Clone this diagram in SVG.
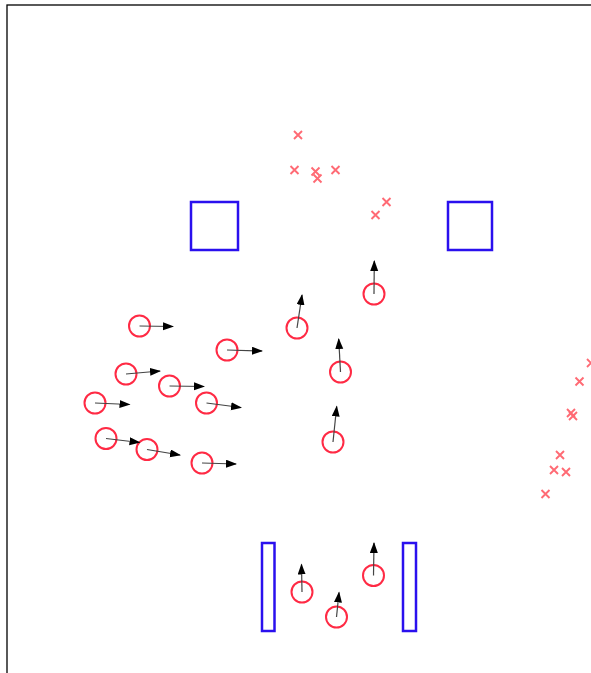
<svg xmlns="http://www.w3.org/2000/svg" width="591" height="673" viewBox="0 0 591 673">
<style>
.frame{fill:#fff;stroke:#000;stroke-width:1.3}
.obs{fill:none;stroke:#2a10ee;stroke-width:2.5}
.agent{fill:none;stroke:#ff2a44;stroke-width:2}
.cross{stroke:#ff6a74;stroke-width:1.9;fill:none}
.vel{stroke:#444;stroke-width:1.2;fill:none;marker-end:url(#ah)}
</style>
<defs>
<marker id="ah" markerUnits="userSpaceOnUse" markerWidth="12" markerHeight="10" refX="10" refY="4" orient="auto">
<path d="M0,0 L11,4 L0,8 Z" fill="#000"/>
</marker>
<path id="x" class="cross" d="M-4,-4 L4,4 M-4,4 L4,-4"/>
</defs>
<rect class="frame" x="7" y="5" width="600" height="700"/>
<g id="goals">
<use href="#x" x="298" y="135"/>
<use href="#x" x="294.5" y="170"/>
<use href="#x" x="315.5" y="171.5"/>
<use href="#x" x="317.5" y="178.5"/>
<use href="#x" x="335.5" y="170"/>
<use href="#x" x="386.5" y="202"/>
<use href="#x" x="375.5" y="215"/>
<use href="#x" x="591" y="363"/>
<use href="#x" x="579.5" y="381.5"/>
<use href="#x" x="571" y="413"/>
<use href="#x" x="573" y="416"/>
<use href="#x" x="560" y="455"/>
<use href="#x" x="554" y="470"/>
<use href="#x" x="566" y="472"/>
<use href="#x" x="545.5" y="494"/>
</g>
<g id="obstacle1"><rect class="obs" x="191" y="202" width="47" height="48"/></g>
<g id="obstacle2"><rect class="obs" x="448" y="202" width="44" height="48"/></g>
<g id="obstacle3"><rect class="obs" x="262" y="543" width="12.5" height="88"/></g>
<g id="obstacle4"><rect class="obs" x="403" y="543" width="13" height="88"/></g>
<g id="agents">
<g id="a1"><circle class="agent" cx="139.5" cy="326" r="10.5"/></g>
<g id="a2"><circle class="agent" cx="227" cy="350" r="10.5"/></g>
<g id="a3"><circle class="agent" cx="126" cy="374" r="10.5"/></g>
<g id="a4"><circle class="agent" cx="169.5" cy="386" r="10.5"/></g>
<g id="a5"><circle class="agent" cx="95" cy="403" r="10.5"/></g>
<g id="a6"><circle class="agent" cx="206.5" cy="403" r="10.5"/></g>
<g id="a7"><circle class="agent" cx="106" cy="438.5" r="10.5"/></g>
<g id="a8"><circle class="agent" cx="147" cy="449.5" r="10.5"/></g>
<g id="a9"><circle class="agent" cx="202" cy="463" r="10.5"/></g>
<g id="a10"><circle class="agent" cx="374" cy="294" r="10.5"/></g>
<g id="a11"><circle class="agent" cx="297" cy="328" r="10.5"/></g>
<g id="a12"><circle class="agent" cx="340.5" cy="372" r="10.5"/></g>
<g id="a13"><circle class="agent" cx="333" cy="442" r="10.5"/></g>
<g id="a14"><circle class="agent" cx="302" cy="592" r="10.5"/></g>
<g id="a15"><circle class="agent" cx="336.5" cy="617" r="10.5"/></g>
<g id="a16"><circle class="agent" cx="373.5" cy="575.5" r="10.5"/></g>
</g>
<g id="connectors">
<line class="vel" x1="139.5" y1="326" x2="173" y2="326.5"/>
<line class="vel" x1="227" y1="350" x2="262" y2="351"/>
<line class="vel" x1="126" y1="374" x2="160" y2="371"/>
<line class="vel" x1="169.5" y1="386" x2="204" y2="386.5"/>
<line class="vel" x1="95" y1="403" x2="129.5" y2="404.5"/>
<line class="vel" x1="206.5" y1="403" x2="241" y2="407.5"/>
<line class="vel" x1="106" y1="438.5" x2="139.5" y2="442.5"/>
<line class="vel" x1="147" y1="449.5" x2="180" y2="455"/>
<line class="vel" x1="202" y1="463" x2="236" y2="464"/>
<line class="vel" x1="374" y1="294" x2="374.3" y2="261"/>
<line class="vel" x1="297" y1="328" x2="302" y2="295"/>
<line class="vel" x1="340.5" y1="372" x2="338.7" y2="339"/>
<line class="vel" x1="333" y1="442" x2="336.7" y2="406.5"/>
<line class="vel" x1="302" y1="592" x2="301.5" y2="564.5"/>
<line class="vel" x1="336.5" y1="617" x2="339" y2="592.5"/>
<line class="vel" x1="373.5" y1="575.5" x2="374" y2="543"/>
</g>
</svg>
